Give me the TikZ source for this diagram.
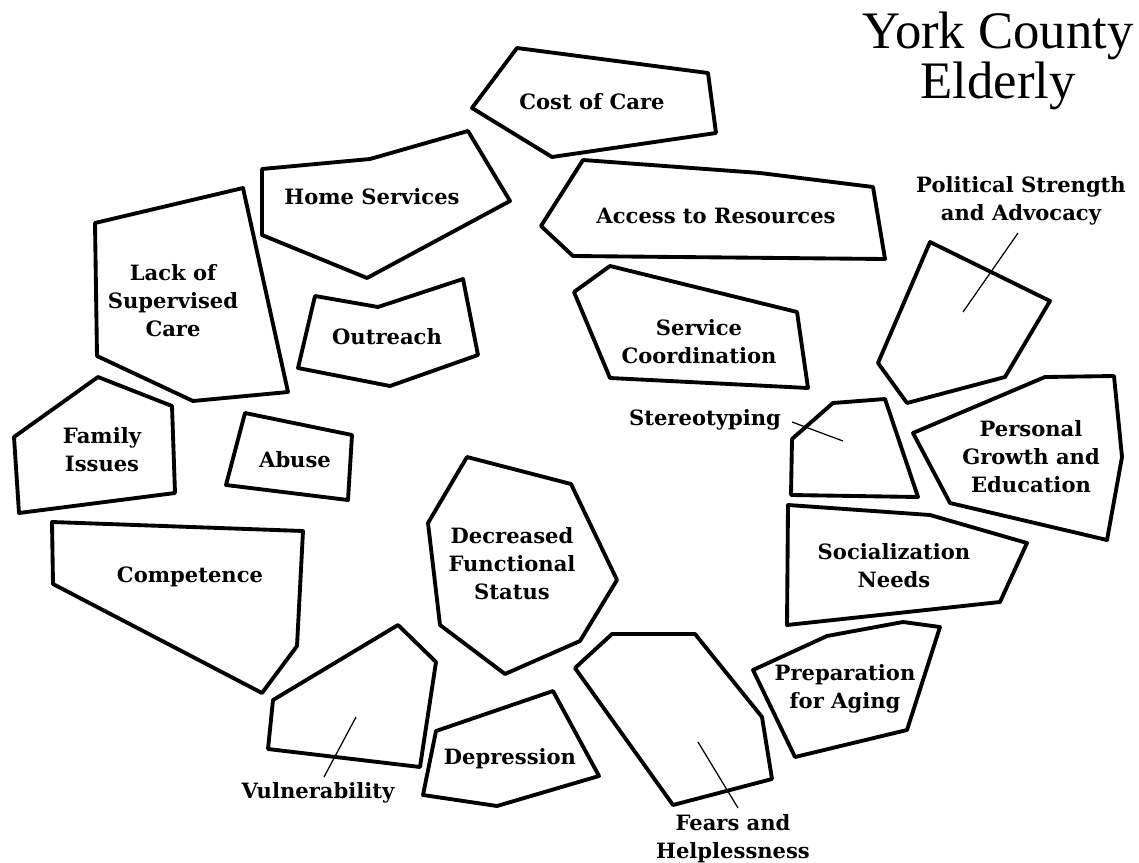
\documentclass[tikz,border=0pt]{standalone}
\usepackage{fontspec}
\newfontfamily\boxfont{DejaVu Serif}[BoldFont={DejaVu Serif Bold}]
\newfontfamily\titlefont{Liberation Serif}
\begin{document}
\begin{tikzpicture}[x=0.02cm,y=-0.02cm,
  area/.style={draw=black,line width=2.2pt,line join=round},
  lbl/.style={font=\boxfont\bfseries\fontsize{12}{16}\selectfont,align=center,inner sep=0pt},
  leader/.style={draw=black,line width=0.7pt}]
\useasboundingbox (0,0) rectangle (1139,862);
% polygons
\draw[area] (517,48) -- (708,73) -- (716,133) -- (552,157) -- (472,108) -- cycle; % cost
\draw[area] (262,169) -- (370,159) -- (468,131) -- (510,201) -- (367,278) -- (262,235) -- cycle; % home
\draw[area] (583,160) -- (760,173) -- (873,187) -- (885,259) -- (573,256) -- (541,226) -- cycle; % access
\draw[area] (95,223) -- (243,188) -- (288,392) -- (193,401) -- (97,356) -- cycle; % lack
\draw[area] (315,296) -- (378,307) -- (463,279) -- (478,355) -- (390,386) -- (298,368) -- cycle; % outreach
\draw[area] (610,266) -- (797,312) -- (808,388) -- (610,378) -- (574,292) -- cycle; % service
\draw[area] (930,242) -- (1050,301) -- (1005,377) -- (907,403) -- (878,363) -- cycle; % political
\draw[area] (833,403) -- (885,399) -- (918,497) -- (791,495) -- (792,439) -- cycle; % stereotyping
\draw[area] (913,433) -- (1045,377) -- (1114,376) -- (1122,457) -- (1107,540) -- (950,503) -- cycle; % personal
\draw[area] (788,505) -- (930,515) -- (1027,543) -- (1000,602) -- (787,625) -- cycle; % socialization
\draw[area] (753,670) -- (827,636) -- (903,622) -- (940,627) -- (907,730) -- (795,757) -- cycle; % preparation
\draw[area] (612,634) -- (695,634) -- (762,717) -- (772,779) -- (673,805) -- (575,668) -- cycle; % fears
\draw[area] (436,731) -- (553,691) -- (599,776) -- (497,806) -- (423,795) -- cycle; % depression
\draw[area] (398,625) -- (436,662) -- (420,767) -- (268,749) -- (273,700) -- cycle; % vulnerability
\draw[area] (467,457) -- (571,484) -- (617,580) -- (580,641) -- (505,674) -- (440,625) -- (428,523) -- cycle; % decreased
\draw[area] (52,522) -- (303,531) -- (297,646) -- (262,693) -- (53,584) -- cycle; % competence
\draw[area] (98,377) -- (172,406) -- (175,493) -- (19,513) -- (14,437) -- cycle; % family
\draw[area] (245,413) -- (352,435) -- (348,500) -- (226,485) -- cycle; % abuse
% labels
\node[lbl] (cost) at (592,102) {Cost of Care};
\node[lbl] (home) at (372,197) {Home Services};
\node[lbl] (access) at (716,216) {Access to Resources};
\node[lbl] (lack) at (173,301) {Lack of\\Supervised\\Care};
\node[lbl] (outreach) at (387,337) {Outreach};
\node[lbl] (service) at (699,342) {Service\\Coordination};
\node[lbl] (political) at (1021,201) {Political Strength\\and Advocacy};
\node[lbl] (stereo) at (705,420) {Stereotyping};
\node[lbl] (personal) at (1031,457) {Personal\\Growth and\\Education};
\node[lbl] (family) at (102,450) {Family\\Issues};
\node[lbl] (abuse) at (295,460) {Abuse};
\node[lbl] (social) at (894,566) {Socialization\\Needs};
\node[lbl] (decreased) at (512,564) {Decreased\\Functional\\Status};
\node[lbl] (competence) at (190,577) {Competence};
\node[lbl] (prep) at (845,689) {Preparation\\for Aging};
\node[lbl] (vuln) at (318,793) {Vulnerability};
\node[lbl] (depression) at (510,759) {Depression};
\node[lbl] (fears) at (733,839) {Fears and\\Helplessness};
\node[font=\titlefont\fontsize{30}{27}\selectfont,align=center,inner sep=0pt] (title) at (998,61) {York County\\Elderly};
% leader lines
\coordinate (p1) at (1018,233); \coordinate (p2) at (963,312);
\coordinate (s1) at (792,422); \coordinate (s2) at (843,441);
\coordinate (v1) at (356,717); \coordinate (v2) at (324,777);
\coordinate (f1) at (698,742); \coordinate (f2) at (738,808);
\draw[leader] (p1) -- (p2);
\draw[leader] (s1) -- (s2);
\draw[leader] (v1) -- (v2);
\draw[leader] (f1) -- (f2);
\end{tikzpicture}
\end{document}
